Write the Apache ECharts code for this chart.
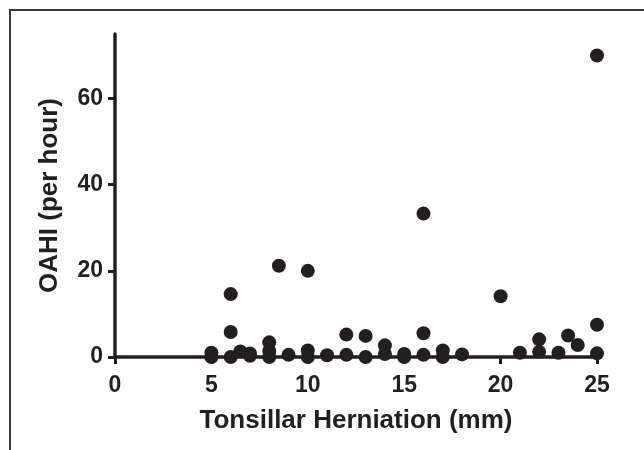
<!DOCTYPE html>
<html>
<head>
<meta charset="utf-8">
<script src="https://cdn.jsdelivr.net/npm/echarts@6/dist/echarts.min.js"></script>
<style>
html,body{margin:0;padding:0;background:#fff;}
#chart{width:644px;height:450px;}
</style>
</head>
<body>
<div id="chart"></div>
<script>
// Tonsillar herniation (mm) vs OAHI (per hour)
var herniation = [5, 5, 6, 6, 6, 6.5, 7, 7, 8, 8, 8, 8.5, 9, 10, 10, 10, 11, 12, 12, 13, 13, 14, 14, 15, 15, 16, 16, 16, 17, 17, 18, 20, 21, 22, 22, 23, 23.5, 24, 25, 25, 25];
var oahi =       [0, 1.0, 0, 5.8, 14.6, 1.3, 0.3, 0.8, 0, 1.4, 3.4, 21.2, 0.5, 0, 1.5, 20, 0.4, 0.5, 5.2, 0, 4.9, 0.7, 2.7, 0.7, 0, 0.5, 5.5, 33.3, 0, 1.5, 0.6, 14.1, 1.0, 1.2, 4.1, 1.0, 5.0, 2.8, 0.85, 7.5, 70];
var xTicks = [0, 5, 10, 15, 20, 25];
var yTicks = [0, 20, 40, 60];
var xTitle = 'Tonsillar Herniation (mm)';
var yTitle = 'OAHI (per hour)';

var points = herniation.map(function (x, i) { return [x, oahi[i]]; });
var ink = '#231f20';
var font = "'Liberation Sans', Arial, Helvetica, sans-serif";

var chart = echarts.init(document.getElementById('chart'), null, {renderer: 'canvas'});
chart.setOption({
  animation: false,
  backgroundColor: '#ffffff',
  grid: {left: 115, right: 47, top: 34, bottom: 93, containLabel: false},
  xAxis: {
    type: 'value', min: 0, max: 25, interval: 5,
    name: xTitle, nameLocation: 'middle', nameGap: 51,
    nameTextStyle: {fontFamily: font, fontWeight: 'bold', fontSize: 26, color: ink},
    axisLine: {show: true, onZero: false, lineStyle: {color: ink, width: 3.5}},
    axisTick: {show: true, inside: false, length: 7, lineStyle: {color: ink, width: 3}, customValues: xTicks},
    axisLabel: {margin: 17, fontFamily: font, fontWeight: 'bold', fontSize: 23, color: ink, customValues: xTicks},
    splitLine: {show: false}
  },
  yAxis: {
    type: 'value', min: 0, max: 75,
    name: yTitle, nameLocation: 'middle', nameGap: 52, nameRotate: 90,
    nameTextStyle: {fontFamily: font, fontWeight: 'bold', fontSize: 26, color: ink},
    axisLine: {show: true, onZero: false, lineStyle: {color: ink, width: 3.5}},
    axisTick: {show: true, inside: false, length: 7, lineStyle: {color: ink, width: 3}, customValues: yTicks},
    axisLabel: {margin: 12, fontFamily: font, fontWeight: 'bold', fontSize: 23, color: ink, customValues: yTicks},
    splitLine: {show: false}
  },
  graphic: [
    {type: 'polyline', silent: true, z: 100,
     shape: {points: [[10, 450], [10, 10], [644, 10]]},
     style: {stroke: '#3a3a3a', lineWidth: 2, fill: null}}
  ],
  series: [{
    type: 'scatter',
    data: points,
    symbol: 'circle',
    symbolSize: 14,
    clip: false,
    itemStyle: {color: ink, opacity: 1}
  }]
});
</script>
</body>
</html>
